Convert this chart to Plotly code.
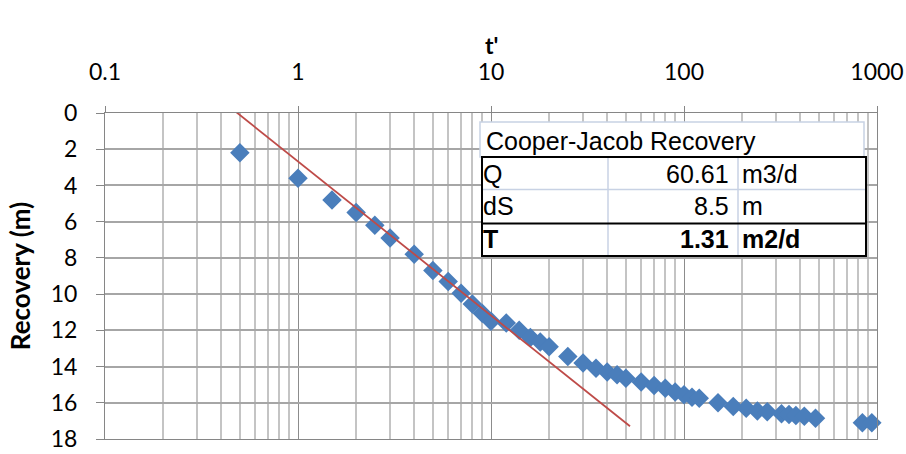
import plotly.graph_objects as go

# ---- data ----
t_prime = [0.5, 1, 1.5, 2, 2.5, 3, 4, 5, 6, 7, 8, 9, 10, 12, 14, 16, 18, 20,
           25, 30, 35, 40, 45, 50, 60, 70, 80, 90, 100, 110, 120, 150, 180,
           210, 240, 270, 320, 350, 380, 420, 480, 840, 940]
recovery = [2.2, 3.6, 4.8, 5.5, 6.2, 6.9, 7.8, 8.7, 9.3, 9.95, 10.55, 11.05,
            11.5, 11.6, 12.0, 12.4, 12.65, 12.9, 13.45, 13.8, 14.1, 14.3,
            14.45, 14.65, 14.85, 15.05, 15.2, 15.4, 15.55, 15.7, 15.75, 16.0,
            16.2, 16.3, 16.45, 16.5, 16.6, 16.65, 16.7, 16.75, 16.85, 17.1, 17.1]

fit_t = [0.44, 52.5]
fit_s = [-0.36, 17.3]

x_tick_vals = [0.1, 1, 10, 100, 1000]
x_tick_text = ["0.1", "1", "10", "100", "1000"]
x_minor_vals = [k * d for d in [0.1, 1, 10, 100] for k in range(2, 10)]
y_tick_vals = [0, 2, 4, 6, 8, 10, 12, 14, 16, 18]

x_title = "t'"
y_title = "Recovery (m)"
table_title = "Cooper-Jacob Recovery"
table_rows = [("Q", "60.61", "m3/d", False),
              ("dS", "8.5", "m", False),
              ("T", "1.31", "m2/d", True)]

# ---- layout geometry ----
W, H = 906, 454
L, R, T, B = 105, 877, 113, 439


def px(x):
    return (x - L) / (R - L)


def py(y):
    return (B - y) / (B - T)


fig = go.Figure()
fig.add_trace(go.Scatter(x=t_prime, y=recovery, mode="markers",
                         marker=dict(symbol="diamond", size=15, color="#4a7ebb",
                                     line=dict(width=0)),
                         showlegend=False, cliponaxis=False))
fig.add_trace(go.Scatter(x=fit_t, y=fit_s, mode="lines",
                         line=dict(color="#be4b48", width=1.8),
                         showlegend=False, cliponaxis=False))

axis_col = "#868686"
fig.update_layout(
    width=W, height=H,
    margin=dict(l=L, r=W - R, t=T, b=H - B, autoexpand=False),
    paper_bgcolor="white", plot_bgcolor="white",
    xaxis=dict(type="log", range=[-1, 3], side="top", automargin=False,
               showline=True, mirror=True, linecolor=axis_col, linewidth=1,
               ticks="outside", ticklen=6, tickcolor=axis_col,
               tickvals=x_tick_vals, ticktext=x_tick_text,
               ticklabelstandoff=17,
               showgrid=True, gridcolor="#8c8c8c", gridwidth=1,
               minor=dict(tickvals=x_minor_vals, showgrid=True,
                          gridcolor="#c4c4c4", gridwidth=1.5, ticks=""),
               zeroline=False,
               tickfont=dict(family="Lato", size=23, color="black")),
    yaxis=dict(range=[18, 0], tickvals=y_tick_vals, automargin=False,
               showline=True, mirror=True, linecolor=axis_col, linewidth=1,
               ticks="outside", ticklen=8, tickcolor=axis_col,
               ticklabelstandoff=14,
               showgrid=True, gridcolor="#a6a6a6", gridwidth=1.5,
               zeroline=False,
               tickfont=dict(family="Lato", size=23, color="black"),
               title=dict(text="<b>" + y_title + "</b>", standoff=12,
                          font=dict(family="Lato", size=26, color="black"))),
)

# ---- table box ----
light = "#c8d2e4"
shapes = []
shapes.append(dict(type="rect", xref="paper", yref="paper",
                   x0=px(480), x1=px(864), y0=py(157), y1=py(122),
                   fillcolor="white", line=dict(color=light, width=1.5),
                   layer="above"))
shapes.append(dict(type="rect", xref="paper", yref="paper",
                   x0=px(482), x1=px(866), y0=py(256), y1=py(157),
                   fillcolor="white", line=dict(color="black", width=2),
                   layer="above"))
for xv in [608, 738]:
    shapes.append(dict(type="line", xref="paper", yref="paper",
                       x0=px(xv), x1=px(xv), y0=py(255), y1=py(158),
                       line=dict(color=light, width=1.5), layer="above"))
shapes.append(dict(type="line", xref="paper", yref="paper",
                   x0=px(483), x1=px(865), y0=py(189.5), y1=py(189.5),
                   line=dict(color=light, width=1.5), layer="above"))
shapes.append(dict(type="line", xref="paper", yref="paper",
                   x0=px(482), x1=px(866), y0=py(223.5), y1=py(223.5),
                   line=dict(color="black", width=2), layer="above"))
shapes.append(dict(type="rect", xref="paper", yref="paper",
                   x0=px(482), x1=px(866), y0=py(256), y1=py(157),
                   line=dict(color="black", width=2), layer="above"))
fig.update_layout(shapes=shapes)

tf = dict(family="Liberation Sans, Arial", size=25, color="black")
ann = [dict(xref="paper", yref="paper", x=px(491), y=py(45),
            text="<b>" + x_title + "</b>", xanchor="center", yanchor="middle",
            showarrow=False, font=dict(family="Lato", size=23, color="black")),
       dict(xref="paper", yref="paper", x=px(484), y=py(141), text=table_title,
            xanchor="left", yanchor="middle", showarrow=False, font=tf)]
row_centers = [174, 206, 239]
for (lab, val, unit, bold), yc in zip(table_rows, row_centers):
    f = (lambda s: "<b>" + s + "</b>") if bold else (lambda s: s)
    ann.append(dict(xref="paper", yref="paper", x=px(481), y=py(yc), text=f(lab),
                    xanchor="left", yanchor="middle", showarrow=False, font=tf))
    ann.append(dict(xref="paper", yref="paper", x=px(731), y=py(yc), text=f(val),
                    xanchor="right", yanchor="middle", showarrow=False, font=tf))
    ann.append(dict(xref="paper", yref="paper", x=px(740), y=py(yc), text=f(unit),
                    xanchor="left", yanchor="middle", showarrow=False, font=tf))
fig.update_layout(annotations=ann)

fig.write_html("out.html")
